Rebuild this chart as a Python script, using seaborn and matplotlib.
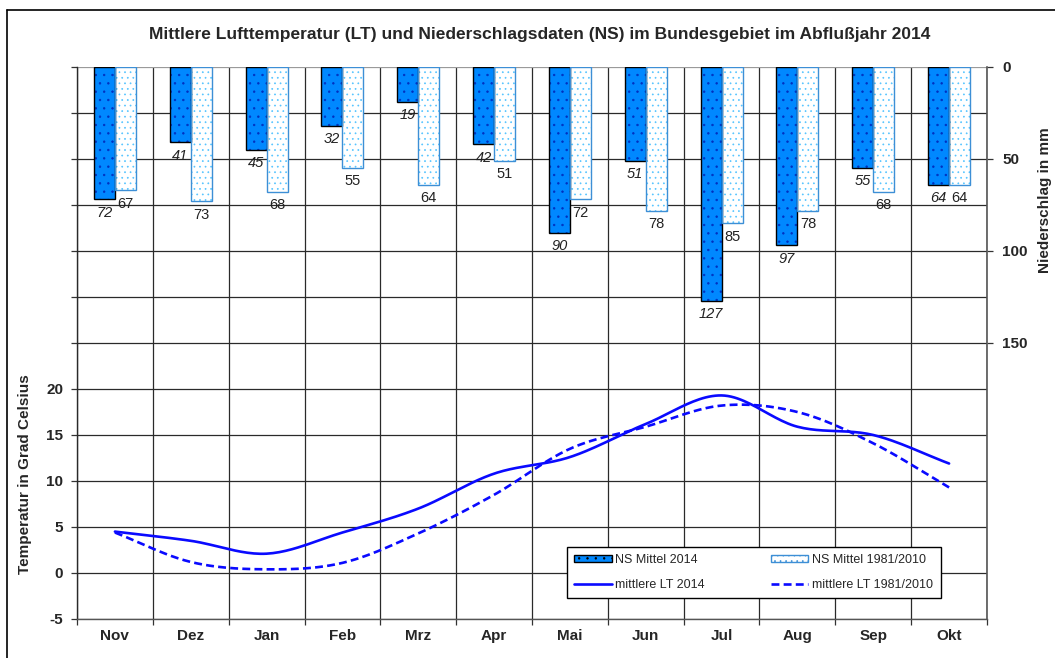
""" Lufttemperatur und Niederschlag im Abflussjahr 2014 """

import numpy as np
import pandas as pd
import matplotlib
matplotlib.use('Agg')
import matplotlib.pyplot as plt
from matplotlib.lines import Line2D
from matplotlib.patches import Patch, Rectangle
import seaborn as sns

monate = ['Nov', 'Dez', 'Jan', 'Feb', 'Mrz', 'Apr',
          'Mai', 'Jun', 'Jul', 'Aug', 'Sep', 'Okt']

# Niederschlag in mm
ns_2014 = [72, 41, 45, 32, 19, 42, 90, 51, 127, 97, 55, 64]
ns_mittel = [67, 73, 68, 55, 64, 51, 72, 78, 85, 78, 68, 64]

# Lufttemperatur in Grad Celsius
lt_2014 = [4.5, 3.5, 2.1, 4.4, 7.0, 10.8, 12.6, 16.2, 19.3, 15.9, 15.0, 11.9]
lt_mittel = [4.4, 1.2, 0.4, 1.1, 4.3, 8.5, 13.5, 15.9, 18.2, 17.5, 14.1, 9.3]

temp_ticks = [-5, 0, 5, 10, 15, 20]
ns_ticks = [0, 50, 100, 150]

BLAU = '#0088ff'
HELLBLAU = '#55c4ff'
RAND_HELL = '#3d8fd6'
LINIE = '#0a0aff'

sns.set_theme(style='white')
plt.rcParams['font.family'] = ['Liberation Sans', 'DejaVu Sans']
plt.rcParams['hatch.linewidth'] = 0.5


def glatt(werte, n=24):
    """ Catmull-Rom Glättung wie bei Excel-Linien. """
    p = np.asarray(werte, dtype=float)
    ext = np.concatenate([[2 * p[0] - p[1]], p, [2 * p[-1] - p[-2]]])
    xs, ys = [], []
    t = np.linspace(0, 1, n, endpoint=False)
    for i in range(len(p) - 1):
        p0, p1, p2, p3 = ext[i:i + 4]
        y = 0.5 * (2 * p1 + (-p0 + p2) * t
                   + (2 * p0 - 5 * p1 + 4 * p2 - p3) * t ** 2
                   + (-p0 + 3 * p1 - 3 * p2 + p3) * t ** 3)
        xs.extend(i + t)
        ys.extend(y)
    xs.append(len(p) - 1)
    ys.append(p[-1])
    return np.array(xs), np.array(ys)


fig = plt.figure(figsize=(10.55, 6.58), dpi=100)
ax = fig.add_axes([77 / 1055, 1 - 619 / 658, 910 / 1055, 552 / 658])
ax2 = ax.twinx()

# Balken (Niederschlag) auf der rechten, umgedrehten Achse
df = pd.DataFrame({
    'Monat': monate * 2,
    'Reihe': ['NS Mittel 2014'] * 12 + ['NS Mittel 1981/2010'] * 12,
    'NS': ns_2014 + ns_mittel,
})
sns.barplot(data=df, x='Monat', y='NS', hue='Reihe', order=monate,
            ax=ax2, width=0.555, gap=0, palette=[BLAU, 'white'],
            saturation=1, legend=False)

bars_2014, bars_mittel = ax2.containers[0], ax2.containers[1]
for p in bars_2014:
    p.set_hatch('..')
    p.set_edgecolor('#0030c0')
    p.set_linewidth(0)
    ax2.add_patch(Rectangle(p.get_xy(), p.get_width(), p.get_height(),
                            fill=False, ec='black', lw=1.0, zorder=3))
for p in bars_mittel:
    p.set_hatch('...')
    p.set_edgecolor(HELLBLAU)
    p.set_linewidth(0)
    ax2.add_patch(Rectangle(p.get_xy(), p.get_width(), p.get_height(),
                            fill=False, ec=RAND_HELL, lw=1.0, zorder=3))

# Werte unter den Balken
for p, v in zip(bars_2014, ns_2014):
    ax2.annotate(str(v), (p.get_x() + p.get_width() / 2, v),
                 xytext=(0, -4.5), textcoords='offset points',
                 ha='center', va='top', fontsize=10.5,
                 fontstyle='italic', color='#222222')
for p, v in zip(bars_mittel, ns_mittel):
    ax2.annotate(str(v), (p.get_x() + p.get_width() / 2, v),
                 xytext=(0, -4.5), textcoords='offset points',
                 ha='center', va='top', fontsize=10.5, color='#222222')

ax2.set_ylim(300, 0)
ax2.set_yticks(ns_ticks)
ax2.set_yticklabels([str(v) for v in ns_ticks], fontsize=11, weight='bold')
ax2.set_ylabel('')
ax2.set_xlabel('')

# Linien (Temperatur) auf der linken Achse
x_lt, y_lt = glatt(lt_2014)
x_lm, y_lm = glatt(lt_mittel)
sns.lineplot(x=x_lt, y=y_lt, ax=ax, color=LINIE, lw=1.9,
             sort=False, estimator=None)
sns.lineplot(x=x_lm, y=y_lm, ax=ax, color=LINIE, lw=1.9,
             sort=False, estimator=None, linestyle=(0, (3, 1.6)))

ax.set_ylim(-5, 55)
ax.set_yticks(np.arange(-5, 56, 5))
ax.set_yticklabels([str(v) if v in temp_ticks else '' for v in np.arange(-5, 56, 5)],
                   fontsize=11, weight='bold')

ax.set_xlim(-0.5, 11.5)
ax.set_xticks(np.arange(-0.5, 12, 1))
ax.set_xticklabels([])
ax.set_xticks(range(12), minor=True)
ax.set_xticklabels(monate, minor=True, fontsize=11, weight='bold')

ax.grid(True, which='major', axis='both', color='#2a2a2a', lw=0.9)
ax.yaxis.get_gridlines()[-1].set_color('#9a9a9a')
ax.set_axisbelow(True)

ax.tick_params(axis='y', which='major', direction='out', length=4,
               width=0.9, color='#333333', pad=6, left=True)
ax.tick_params(axis='x', which='major', direction='out', length=4,
               width=0.9, color='#333333', bottom=True)
ax.tick_params(axis='x', which='minor', length=0, pad=7)
ax2.tick_params(axis='y', direction='out', length=4, width=0.9,
                color='#333333', pad=7, right=True)

for s in ['top', 'right']:
    ax.spines[s].set_visible(False)
for s in ['top', 'left', 'bottom']:
    ax2.spines[s].set_visible(False)
ax.spines['left'].set_color('#2a2a2a')
ax.spines['bottom'].set_color('#555555')
ax2.spines['right'].set_color('#555555')
for s in ['left', 'bottom']:
    ax.spines[s].set_linewidth(1.0)
ax2.spines['right'].set_linewidth(1.2)
ax.set_xlabel('')
ax.set_ylabel('')

# Legende
handles = [
    Patch(facecolor=BLAU, edgecolor='black', hatch='..', lw=1),
    Line2D([], [], color=LINIE, lw=1.9),
    Patch(facecolor='white', edgecolor=RAND_HELL, hatch='...', lw=1),
    Line2D([], [], color=LINIE, lw=1.9, linestyle=(0, (3, 1.6))),
]
labels = ['NS Mittel 2014', 'mittlere LT 2014',
          'NS Mittel 1981/2010', 'mittlere LT 1981/2010']
leg = ax2.legend(handles, labels, ncol=2, loc='lower left',
                 bbox_to_anchor=(0.538, 0.038, 0.411, 0.0906), mode='expand',
                 borderaxespad=0, fontsize=9, handlelength=3.0,
                 handleheight=0.5, handletextpad=0.3, labelspacing=1.0,
                 fancybox=False, framealpha=1, edgecolor='black',
                 borderpad=0.6)
leg.get_frame().set_linewidth(1.0)

# Titel und Achsentitel
fig.text(540 / 1055, 1 - 34 / 658,
         'Mittlere Lufttemperatur (LT) und Niederschlagsdaten (NS) im Bundesgebiet im Abflußjahr 2014',
         ha='center', va='center', fontsize=12.5, weight='bold')
fig.text(25 / 1055, 1 - 474 / 658, 'Temperatur in Grad Celsius',
         rotation=90, ha='center', va='center', fontsize=11, weight='bold')
fig.text(1045 / 1055, 1 - 200 / 658, 'Niederschlag in mm',
         rotation=90, ha='center', va='center', fontsize=11, weight='bold')

# Rahmen
fig.add_artist(Line2D([7 / 1055, 7 / 1055], [0, 1 - 10 / 658],
                      transform=fig.transFigure, color='black', lw=1.2))
fig.add_artist(Line2D([7 / 1055, 1], [1 - 10 / 658, 1 - 10 / 658],
                      transform=fig.transFigure, color='black', lw=1.2))

fig.savefig('out.png', dpi=100)
